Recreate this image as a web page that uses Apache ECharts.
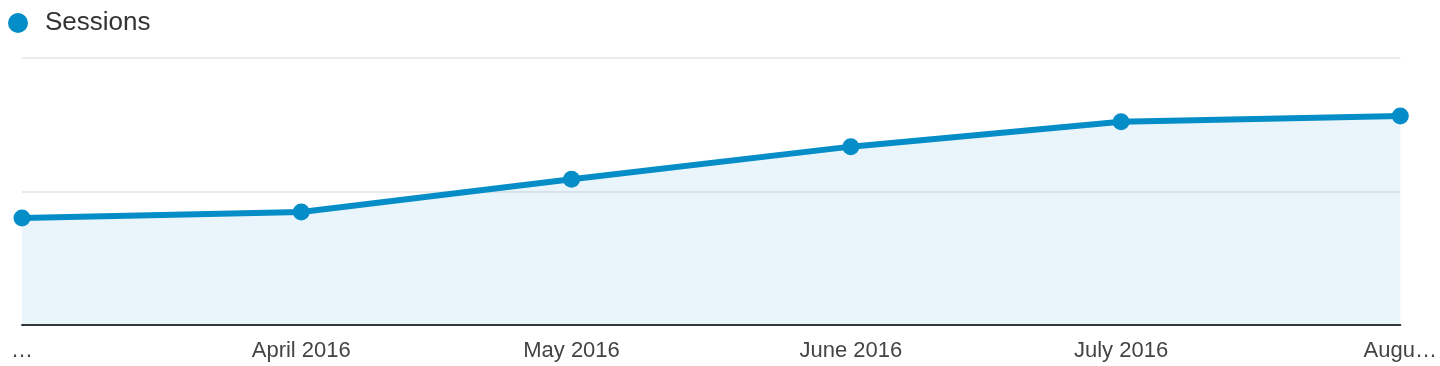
<!DOCTYPE html>
<html>
<head>
<meta charset="utf-8">
<script src="https://cdn.jsdelivr.net/npm/echarts@6/dist/echarts.min.js"></script>
<style>
html,body{margin:0;padding:0;background:#fff;}
#chart{width:1440px;height:366px;}
</style>
</head>
<body>
<div id="chart"></div>
<script>
const dates = ["2016-03-01", "2016-04-01", "2016-05-01", "2016-06-01", "2016-07-01", "2016-08-01"];
const tickLabels = ["…", "April 2016", "May 2016", "June 2016", "July 2016", "Augu…"];
const sessions = [801, 846, 1091, 1336, 1523, 1566];
const seriesName = "Sessions";

const stamps = dates.map(function (d) { return Date.UTC(+d.slice(0,4), +d.slice(5,7) - 1, +d.slice(8,10)); });
const seriesData = stamps.map(function (t, i) { return [t, sessions[i]]; });

const chart = echarts.init(document.getElementById('chart'), null, {renderer: 'canvas'});
chart.setOption({
  animation: false,
  backgroundColor: '#fff',
  legend: {
    data: [seriesName],
    left: 8,
    top: 10,
    padding: 0,
    icon: 'circle',
    itemWidth: 20,
    itemHeight: 20,
    textStyle: {
      fontFamily: 'Liberation Sans, Arial, sans-serif',
      fontSize: 26,
      color: '#333',
      padding: [5, 0, 0, 12]
    }
  },
  grid: {left: 22, right: 37, top: 58, bottom: 41, containLabel: false},
  xAxis: {
    type: 'value',
    min: stamps[0],
    max: stamps[stamps.length - 1],
    scale: true,
    axisLine: {lineStyle: {color: '#333', width: 2}},
    axisTick: {show: false},
    splitLine: {show: false},
    axisLabel: {
      customValues: stamps,
      hideOverlap: false,
      margin: 15,
      fontFamily: 'Liberation Sans, Arial, sans-serif',
      fontSize: 22,
      color: '#444',
      formatter: function (v) {
        const i = stamps.indexOf(+v);
        return i >= 0 ? tickLabels[i] : '';
      }
    }
  },
  yAxis: {
    type: 'value',
    min: 0,
    max: 2000,
    interval: 1000,
    axisLabel: {show: false},
    axisLine: {show: false},
    axisTick: {show: false},
    splitLine: {lineStyle: {color: '#ebebeb', width: 2}}
  },
  series: [{
    name: seriesName,
    type: 'line',
    data: seriesData,
    symbol: 'circle',
    symbolSize: 17,
    showAllSymbol: true,
    color: '#058dc7',
    lineStyle: {width: 6, color: '#058dc7'},
    itemStyle: {color: '#058dc7'},
    areaStyle: {color: 'rgba(5,141,199,0.12)'}
  }]
});
</script>
</body>
</html>
